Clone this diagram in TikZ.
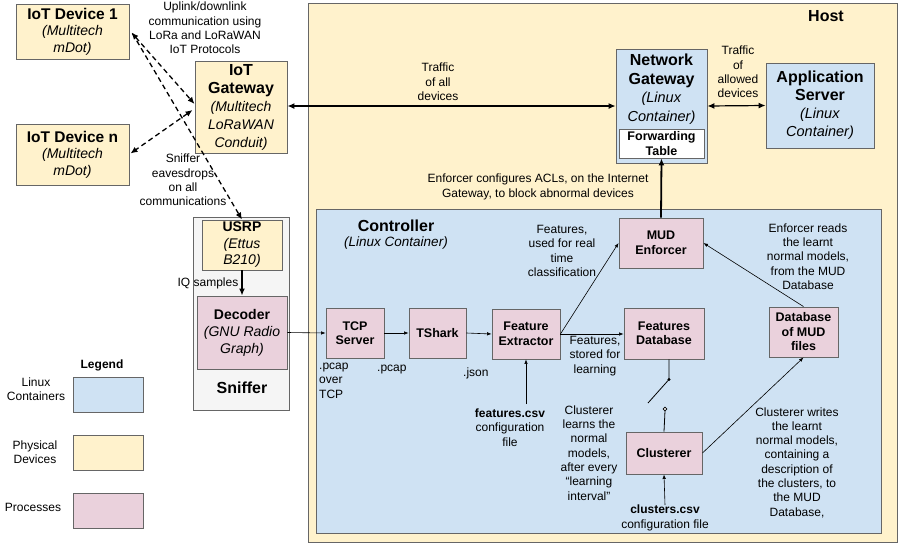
\documentclass[tikz,border=0pt]{standalone}
\usepackage{fontspec}
\setmainfont{Liberation Sans}
\usetikzlibrary{arrows.meta,calc}
\definecolor{yel}{HTML}{FFF2CC}
\definecolor{blu}{HTML}{CFE2F3}
\definecolor{pnk}{HTML}{EAD1DC}
\definecolor{sng}{HTML}{F5F5F5}
\definecolor{bdr}{HTML}{666666}
\begin{document}
\begin{tikzpicture}[x=1pt,y=-1pt,
  box/.style={draw=bdr, line width=0.9pt, align=center, inner sep=0pt},
  phys/.style={box, fill=yel},
  proc/.style={box, fill=pnk},
  cont/.style={box, fill=blu},
  lbl/.style={align=center, inner sep=0pt, font=\fontsize{12}{14.3}\selectfont},
  devfont/.style={font=\fontsize{14}{16.5}\selectfont},
  pbold/.style={font=\fontsize{12.5}{14.5}\selectfont\bfseries},
  dasharr/.style={dash pattern=on 5pt off 3.5pt, line width=1.3pt},
  tipL/.tip={Latex[length=7pt,width=6pt]},
  tipS/.tip={Latex[length=4.5pt,width=3.5pt]},
  thinarr/.style={line width=0.6pt, -tipS},
  thickarr/.style={line width=1.8pt, -{Latex[length=7pt,width=6pt]}},
  medarr/.style={line width=1.2pt, {Latex[length=7pt,width=6pt]}-{Latex[length=7pt,width=6pt]}}
]
\useasboundingbox (0,0) rectangle (900,544);

% containers
\node[phys, minimum width=589pt, minimum height=539pt] (host) at (602.5,272.5) {};
\node[font=\fontsize{16}{18}\selectfont\bfseries, inner sep=0pt] (hostlbl) at (826,16) {Host};
\node[cont, minimum width=565pt, minimum height=324pt] (ctrl) at (598.5,371) {};
\node[font=\fontsize{16}{18}\selectfont\bfseries, inner sep=0pt] (ctrllbl) at (396,226) {Controller};
\node[font=\fontsize{13.5}{16}\selectfont\itshape, inner sep=0pt] (ctrlsub) at (396,243) {(Linux Container)};
\node[box, fill=sng, minimum width=96pt, minimum height=193pt] (snf) at (241,313.5) {};
\node[font=\fontsize{16}{18}\selectfont\bfseries, inner sep=0pt] (snflbl) at (242,388) {Sniffer};

% physical devices
\node[phys, devfont, minimum width=113pt, minimum height=55pt] (d1) at (72.5,31.5)
  {\textbf{\fontsize{15.5}{17}\selectfont IoT Device 1}\\\textit{(Multitech}\\\textit{mDot)}};
\node[phys, devfont, minimum width=113pt, minimum height=61pt] (dn) at (72.5,154.5)
  {\textbf{\fontsize{15.5}{17}\selectfont IoT Device n}\\\textit{(Multitech}\\\textit{mDot)}};
\node[phys, font=\fontsize{14}{18}\selectfont, minimum width=92pt, minimum height=92pt] (gw) at (241,107)
  {\textbf{\fontsize{16}{18.5}\selectfont IoT}\\\textbf{\fontsize{16}{18.5}\selectfont Gateway}\\\textit{(Multitech}\\\textit{LoRaWAN}\\\textit{Conduit)}};
\node[phys, font=\fontsize{14}{16.5}\selectfont, minimum width=80pt, minimum height=50pt] (usrp) at (242,245)
  {\textbf{USRP}\\\textit{(Ettus}\\\textit{B210)}};
\node[proc, font=\fontsize{14}{17}\selectfont, minimum width=90pt, minimum height=73pt] (dec) at (242,332.5)
  {\textbf{Decoder}\\\textit{(GNU Radio}\\\textit{Graph)}};

% linux containers
\node[cont, minimum width=91pt, minimum height=114pt] (ng) at (661.5,106) {};
\node[font=\fontsize{14.5}{18.5}\selectfont, align=center, inner sep=0pt] (nglbl) at (661.5,89)
  {\textbf{\fontsize{16}{19}\selectfont Network}\\\textbf{\fontsize{16}{19}\selectfont Gateway}\\\textit{(Linux}\\\textit{Container)}};
\node[box, fill=white, font=\fontsize{12.5}{14.5}\selectfont\bfseries, minimum width=85pt, minimum height=29pt] (ft) at (661.5,143.5)
  {Forwarding\\Table};
\node[cont, font=\fontsize{14.5}{18}\selectfont, minimum width=108pt, minimum height=85pt] (app) at (820,105.5)
  {\textbf{\fontsize{16}{19.5}\selectfont Application}\\\textbf{\fontsize{16}{19.5}\selectfont Server}\\\textit{(Linux}\\\textit{Container)}};

% processes
\node[proc, pbold, minimum width=58pt, minimum height=50pt] (tcp) at (355,333) {TCP\\Server};
\node[proc, pbold, minimum width=57pt, minimum height=50pt] (tsh) at (437.5,333) {TShark};
\node[proc, pbold, minimum width=68pt, minimum height=50pt] (fe) at (526,334) {Feature\\Extractor};
\node[proc, pbold, minimum width=80pt, minimum height=51pt] (fd) at (664,333.5) {Features\\Database};
\node[proc, pbold, minimum width=84pt, minimum height=50pt] (mud) at (661,243) {MUD\\Enforcer};
\node[proc, pbold, minimum width=69pt, minimum height=50pt] (dbm) at (803.5,332) {Database\\of MUD\\files};
\node[proc, pbold, minimum width=76pt, minimum height=42pt] (clu) at (664,453) {Clusterer};

% legend
\node[font=\fontsize{12}{14}\selectfont\bfseries, inner sep=0pt] (leg) at (102,365) {Legend};
\node[cont, minimum width=70pt, minimum height=35pt] (lg1) at (108,394.5) {};
\node[phys, minimum width=70pt, minimum height=35pt] (lg2) at (108,452.5) {};
\node[proc, minimum width=70pt, minimum height=35pt] (lg3) at (108,510.5) {};
\node[lbl] (lgt1) at (36,389) {Linux\\Containers};
\node[lbl] (lgt2) at (35,452) {Physical\\Devices};
\node[lbl] (lgt3) at (33,507) {Processes};

% labels
\node[lbl] (uplink) at (205,28) {Uplink/downlink\\communication using\\LoRa and LoRaWAN\\IoT Protocols};
\node[lbl] (sniftxt) at (183,180) {Sniffer\\eavesdrops\\on all\\communications};
\node[lbl] (iq) at (208,283) {IQ samples};
\node[lbl] (trall) at (438,82) {Traffic\\of all\\devices};
\node[lbl] (tralw) at (738,72) {Traffic\\of\\allowed\\devices};
\node[lbl] (enfcfg) at (538,187) {Enforcer configures ACLs, on the Internet\\Gateway, to block abnormal devices};
\node[lbl] (frt) at (562,251) {Features,\\used for real\\time\\classification};
\node[lbl] (fst) at (595,356) {Features,\\stored for\\learning};
\node[lbl] (erd) at (808,256.5) {Enforcer reads\\the learnt\\normal models,\\from the MUD\\Database};
\node[lbl, align=left, anchor=north west] (pcap1) at (319,363) {.pcap\\over\\TCP};
\node[lbl, anchor=west] (pcap2) at (377,370) {.pcap};
\node[lbl, anchor=west] (json) at (463,373) {.json};
\node[lbl] (fcsv) at (510,427.5) {\textbf{features.csv}\\configuration\\file};
\node[lbl] (cll) at (589,453) {Clusterer\\learns the\\normal\\models,\\after every\\“learning\\interval”};
\node[lbl] (ccsv) at (665,518) {\textbf{clusters.csv}\\configuration file};
\node[lbl] (clw) at (797,462.5) {Clusterer writes\\the learnt\\normal models,\\containing a\\description of\\the clusters, to\\the MUD\\Database,};

% dashed radio links
\draw[dasharr, tipL-tipL] ($(d1.east)+(2,1)$) -- ($(gw.west)+(0,-3)$);
\draw[dasharr, tipL-tipL] ($(gw.west)+(-2,3)$) -- ($(dn.east)+(1,-1)$);
\draw[dasharr, -tipL] ($(d1.east)+(3,2)$) -- (usrp.north);

% solid links
\draw[thickarr] (usrp.south) -- (dec.north);
\draw[thinarr] (dec.east) -- (tcp.west);
\draw[thinarr] (tcp.east) -- (tsh.west);
\draw[thinarr] (tsh.east) -- (fe.west);
\draw[thinarr] (fe.east) -- (fd.west |- fe.east);
\draw[thinarr] (fe.east) -- (mud.west);
\draw[thinarr] (dbm.north) -- (mud.east);
\draw[thinarr] (clu.east) -- (dbm.south);
\coordinate (fcsvtop) at (526,404);
\draw[thinarr] (fcsvtop) -- (fe.south);
\draw[thinarr] (ccsv.north) -- (clu.south);
\draw[thickarr] (mud.north) -- (ft.south);
\draw[medarr] (gw.east |- ng.west) -- (ng.west);
\draw[medarr] (ng.east) -- (app.west);

% switch between features database and clusterer
\coordinate (swa) at ($(fd.south)+(5,20)$);
\coordinate (swb) at (648,403);
\coordinate (swc) at (665,409);
\draw[line width=0.8pt] ($(fd.south)+(5,0)$) -- (swa) -- (swb);
\fill (swa) circle (1.6pt);
\draw[line width=0.8pt] (clu.north) -- ($(swc)+(0,2)$);
\draw[line width=0.7pt, fill=white] (swc) circle (1.8pt);
\end{tikzpicture}
\end{document}
